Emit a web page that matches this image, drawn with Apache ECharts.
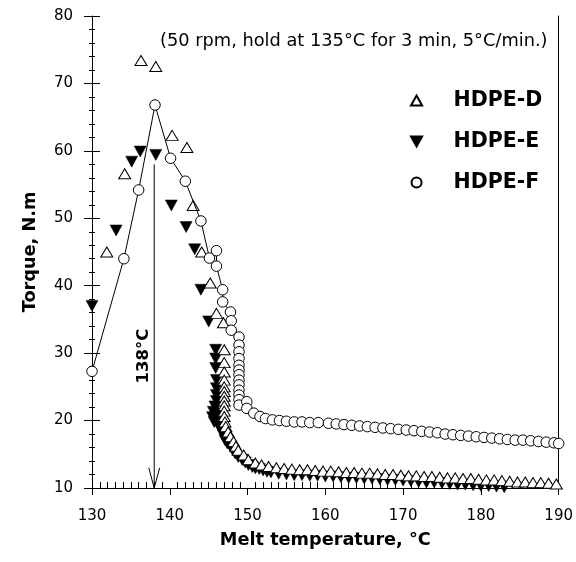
<!DOCTYPE html>
<html>
<head>
<meta charset="utf-8">
<script src="https://cdn.jsdelivr.net/npm/echarts@6/dist/echarts.min.js"></script>
<style>
html,body{margin:0;padding:0;background:#fff;}
#chart{width:576px;height:562px;}
</style>
</head>
<body>
<div id="chart"></div>
<script>
// ---- Data ----
const dTemp = [131.9,134.2,136.3,138.2,140.3,142.2,143.0,144.1,145.2,146.0,146.9,147.0,147.0,147.0,147.0,147.0,147.0,147.0,147.0,147.0,147.0,147.0,147.1,147.2,147.5,147.8,148.2,148.5,148.8,149.5,150.1,151.0,151.8,152.7,
  153.7,154.7,155.7,156.7,157.7,158.7,159.7,160.7,161.7,162.7,163.7,164.7,165.7,166.7,167.7,168.7,169.7,170.7,171.7,172.7,173.7,174.7,175.7,176.7,177.7,178.7,179.7,180.7,181.7,182.7,183.7,184.7,185.7,186.7,187.7,188.7,189.7];
const dTorque = [45.0,56.6,73.4,72.5,62.3,60.5,51.9,45.0,40.4,35.9,34.5,30.5,28.6,27.2,26.0,25.0,24.3,23.6,22.9,22.2,21.4,20.6,19.8,19.1,18.3,17.6,16.9,16.2,15.6,14.9,14.2,13.7,13.4,13.2,
  13.0,12.9,12.8,12.7,12.7,12.6,12.5,12.5,12.4,12.3,12.3,12.2,12.2,12.1,12.0,12.0,11.9,11.8,11.8,11.7,11.7,11.6,11.5,11.5,11.4,11.4,11.3,11.2,11.2,11.1,11.0,10.9,10.9,10.8,10.8,10.7,10.6];

const eTemp = [130.0,133.1,135.1,136.2,138.2,140.2,142.1,143.2,144.0,145.0,145.9,145.9,145.9,146.0,146.0,146.0,146.0,145.8,145.6,145.5,145.7,146.1,146.5,146.3,146.6,146.9,147.1,147.4,147.8,148.1,148.4,148.8,149.3,149.7,150.1,150.6,151.0,151.5,152.0,152.5,
  153.0,154.0,155.0,156.0,157.0,158.0,159.0,160.0,161.0,162.0,163.0,164.0,165.0,166.0,167.0,168.0,169.0,170.0,171.0,172.0,173.0,174.0,175.0,176.0,177.0,178.0,179.0,180.0,181.0,182.0,183.0];
const eTorque = [37.0,48.2,58.4,59.9,59.4,51.9,48.7,45.4,39.4,34.7,30.5,29.2,27.8,26.0,24.8,23.8,22.9,22.1,21.3,20.5,19.8,21.0,20.2,19.2,18.5,17.8,17.1,16.6,16.1,15.6,15.1,14.6,14.2,13.8,13.4,13.1,12.9,12.8,12.6,12.4,
  12.3,12.1,12.0,11.9,11.9,11.8,11.8,11.7,11.7,11.6,11.5,11.5,11.4,11.4,11.3,11.2,11.2,11.1,11.0,10.9,10.8,10.8,10.7,10.6,10.5,10.5,10.4,10.3,10.3,10.2,10.1];

const fTemp = [130.0,134.1,136.0,138.1,140.1,142.0,144.0,145.1,146.0,146.0,146.8,146.8,147.8,147.9,147.9,
  148.9,148.9,148.9,148.9,148.9,148.9,148.9,148.9,148.9,148.9,148.9,148.9,148.9,149.9,149.9,150.8,151.6,152.3,
  153.2,154.1,155.0,156.0,157.0,158.0,159.1,160.4,161.4,162.4,163.4,164.4,165.4,166.4,167.4,168.4,169.4,170.4,171.4,172.4,173.4,174.4,175.4,176.4,177.4,178.4,179.4,180.4,181.4,182.4,183.4,184.4,185.4,186.4,187.4,188.4,189.4,190.0];
const fTorque = [27.3,44.0,54.2,66.8,58.9,55.5,49.6,44.1,45.2,42.9,39.4,37.6,36.1,34.8,33.4,
  32.4,31.2,30.2,29.2,28.2,27.5,26.8,26.0,25.3,24.5,23.8,23.1,22.3,22.8,21.8,21.1,20.6,20.3,
  20.1,20.0,19.9,19.8,19.8,19.7,19.7,19.6,19.5,19.4,19.3,19.2,19.1,19.0,18.9,18.8,18.7,18.6,18.5,18.4,18.3,18.2,18.0,17.9,17.8,17.7,17.6,17.5,17.4,17.3,17.2,17.1,17.1,17.0,16.9,16.8,16.7,16.6];

const seriesNames = ['HDPE-D','HDPE-E','HDPE-F'];
const arrowTemp = 138;
const arrowTop = 58;
const titleText = '(50 rpm, hold at 135°C for 3 min, 5°C/min.)';
const arrowLabel = '138°C';

// ---- Helpers ----
const zip = (xs, ys) => xs.map((x, i) => [x, ys[i]]);
const FONT = 'DejaVu Sans';

const chart = echarts.init(document.getElementById('chart'), null, {renderer: 'canvas'});

const triUp = 'path://M5,0 L10,9 L0,9 Z';
const triDown = 'path://M0,0 L10,0 L5,9 Z';
const circ = 'path://M5,0 A5,5 0 1,1 5,10 A5,5 0 1,1 5,0 Z';

const option = {
  backgroundColor: '#fff',
  animation: false,
  title: {
    text: titleText,
    left: 160, top: 32, padding: 0,
    textStyle: {fontFamily: FONT, fontSize: 17.8, fontWeight: 'normal', color: '#000'}
  },
  legend: {
    orient: 'vertical',
    left: 405, top: 85,
    itemWidth: 64, itemHeight: 10, itemGap: 20,
    symbolKeepAspect: true,
    selectedMode: false,
    textStyle: {fontFamily: FONT, fontSize: 20.5, fontWeight: 'bold', color: '#000'},
    data: [
      {name: seriesNames[0], icon: triUp},
      {name: seriesNames[1], icon: triDown},
      {name: seriesNames[2], icon: circ}
    ]
  },
  grid: {left: 92, right: 16, top: 16, bottom: 74, containLabel: false},
  xAxis: [
    {
      type: 'value', min: 130, max: 190, interval: 10, position: 'bottom',
      axisLine: {show: true, lineStyle: {color: '#000', width: 1}},
      axisTick: {show: true, length: 7, lineStyle: {color: '#000', width: 1}},
      axisLabel: {margin: 21, fontFamily: FONT, fontSize: 15, color: '#000'},
      splitLine: {show: false},
      name: 'Melt temperature, °C', nameLocation: 'middle', nameGap: 43,
      nameTextStyle: {fontFamily: FONT, fontSize: 17.7, fontWeight: 'bold', color: '#000'}
    },
    {
      type: 'value', min: 130, max: 190, interval: 10, position: 'bottom',
      axisLine: {show: false},
      axisTick: {show: false, inside: true},
      minorTick: {show: true, splitNumber: 10, length: 6, lineStyle: {color: '#000', width: 1}},
      axisLabel: {show: false},
      splitLine: {show: false}
    }
  ],
  yAxis: [
    {
      type: 'value', min: 10, max: 80, interval: 10, position: 'left',
      axisLine: {show: true, lineStyle: {color: '#000', width: 1}},
      axisTick: {show: true, length: 8, lineStyle: {color: '#000', width: 1}},
      minorTick: {show: true, splitNumber: 5, length: 3, lineStyle: {color: '#000', width: 1}},
      axisLabel: {margin: 19, fontFamily: FONT, fontSize: 15, color: '#000'},
      splitLine: {show: false},
      name: 'Torque, N.m', nameLocation: 'middle', nameGap: 53, nameRotate: 90,
      nameTextStyle: {fontFamily: FONT, fontSize: 17.7, fontWeight: 'bold', color: '#000'}
    },
    {
      type: 'value', min: 10, max: 80, interval: 10, position: 'left',
      axisLine: {show: false},
      axisTick: {show: true, inside: true, length: 8, lineStyle: {color: '#000', width: 1}},
      minorTick: {show: true, splitNumber: 5, length: 3, lineStyle: {color: '#000', width: 1}},
      axisLabel: {show: false},
      splitLine: {show: false}
    },
    {
      type: 'value', min: 10, max: 80, interval: 10, position: 'right',
      axisLine: {show: true, lineStyle: {color: '#000', width: 1}},
      axisTick: {show: false}, axisLabel: {show: false}, splitLine: {show: false}
    }
  ],
  graphic: [
    {
      type: 'text', x: 144, y: 356, rotation: Math.PI / 2,
      style: {text: arrowLabel, font: 'bold 16.5px "DejaVu Sans"', fill: '#000', textAlign: 'center', textVerticalAlign: 'middle'}
    }
  ],
  series: [
    {
      name: 'arrow', type: 'line', silent: true, symbol: 'none',
      data: [[arrowTemp, arrowTop], [arrowTemp, 10]],
      lineStyle: {color: '#000', width: 1}, z: 1
    },
    {
      name: 'arrowhead', type: 'line', silent: true, symbol: 'none',
      data: [[arrowTemp - 0.7, 13], [arrowTemp, 10], [arrowTemp + 0.7, 13]],
      lineStyle: {color: '#000', width: 1}, z: 1
    },
    {
      name: seriesNames[1], type: 'scatter', data: zip(eTemp, eTorque),
      symbol: 'triangle', symbolRotate: 180, symbolSize: [12, 11],
      itemStyle: {color: '#000', borderColor: '#000', borderWidth: 0.5, opacity: 1}, z: 2
    },
    {
      name: seriesNames[0], type: 'scatter', data: zip(dTemp, dTorque),
      symbol: 'triangle', symbolSize: [12, 10],
      itemStyle: {color: '#fff', borderColor: '#000', borderWidth: 1, opacity: 1}, z: 3
    },
    {
      name: seriesNames[2], type: 'line', data: zip(fTemp, fTorque),
      symbol: 'circle', symbolSize: 10.5, showAllSymbol: true,
      lineStyle: {color: '#000', width: 1},
      itemStyle: {color: '#fff', borderColor: '#000', borderWidth: 1, opacity: 1}, z: 4
    }
  ]
};
chart.setOption(option);
</script>
</body>
</html>
